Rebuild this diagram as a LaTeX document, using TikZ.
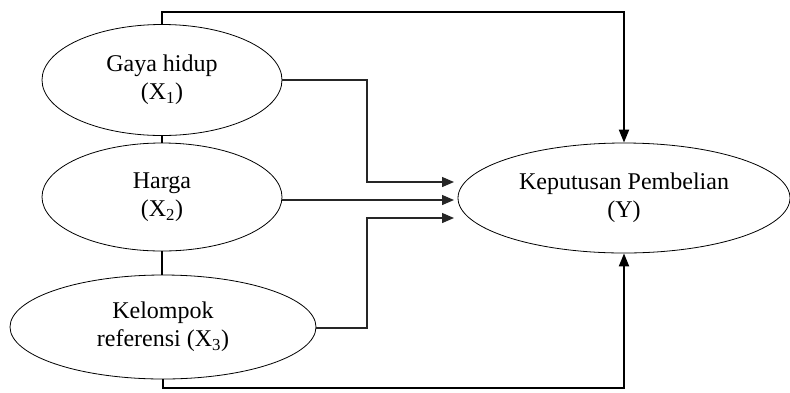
\documentclass[tikz,border=0pt]{standalone}
\usepackage{fontspec}
\setmainfont{Liberation Serif}
\usetikzlibrary{shapes.geometric,arrows.meta}
\begin{document}
\begin{tikzpicture}[x=1pt,y=-1pt,
  var/.style={ellipse,draw,line width=0.8pt,inner sep=0pt,align=center,
    font=\fontsize{24}{28}\selectfont},
  bold/.style={line width=2pt,-{Triangle[length=13pt,width=10pt]}},
  thin/.style={line width=1.3pt,draw=black!85,-{Triangle[length=12pt,width=10pt]}},
  plain/.style={line width=2pt}]
\useasboundingbox (0,0) rectangle (790,392);
\fill[white] (0,0) rectangle (790,392);
\node[var,minimum width=240pt,minimum height=111pt] (g) at (162,80) {Gaya hidup\\(X\textsubscript{1})};
\node[var,minimum width=240pt,minimum height=108pt] (h) at (162,197) {Harga\\(X\textsubscript{2})};
\node[var,minimum width=306pt,minimum height=104pt] (k) at (163,327) {Kelompok\\referensi (X\textsubscript{3})};
\node[var,minimum width=332pt,minimum height=110pt] (y) at (624,198) {Keputusan Pembelian\\(Y)};
\coordinate (a1) at (454,182);
\coordinate (a2) at (454,200);
\coordinate (a3) at (454,218);
\coordinate (m1) at (367,80);
\coordinate (m3) at (367,328);
\draw[plain] (g.south) -- (h.north);
\draw[plain] (h.south) -- (h.south |- k.north);
\draw[bold] (g.north) -- ++(0,-12) -| (y.north);
\draw[bold] (k.south) -- ++(0,9) -| (y.south);
\draw[thin] (g.east) -- (m1) |- (a1);
\draw[thin] (h.east |- a2) -- (a2);
\draw[thin] (k.east |- m3) -- (m3) |- (a3);
\end{tikzpicture}
\end{document}
